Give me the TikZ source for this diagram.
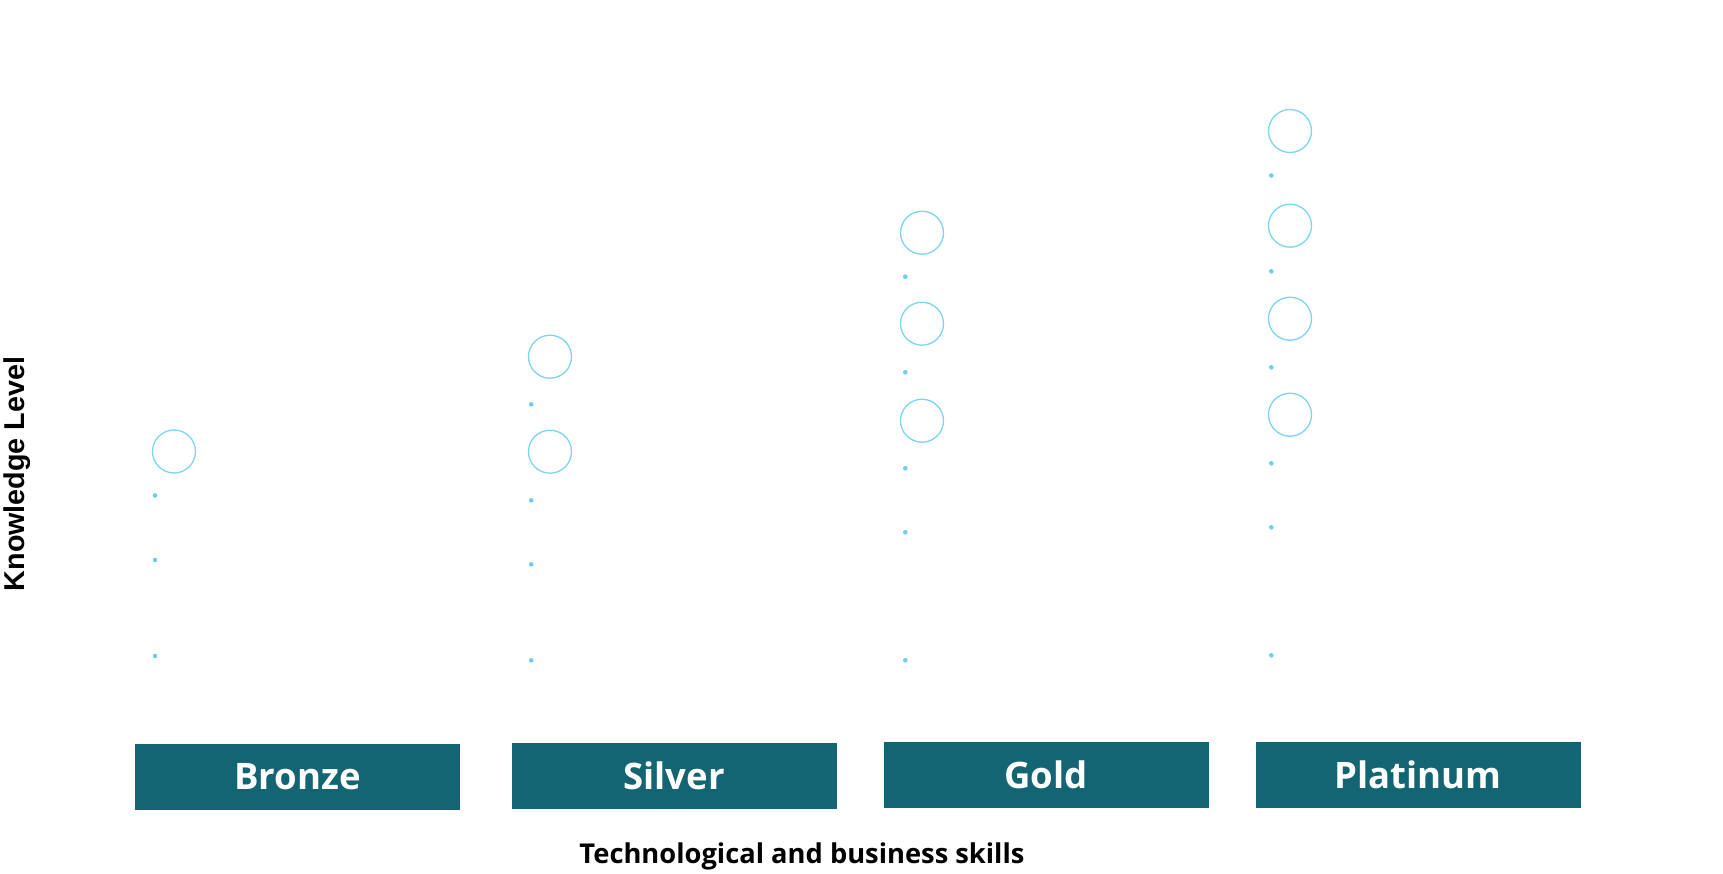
\documentclass[tikz,border=0pt]{standalone}
\usepackage{fontspec}
\setmainfont{Open Sans}
\newfontfamily\kfont{Liberation Sans}
\definecolor{boxteal}{HTML}{136574}
\definecolor{ringblue}{HTML}{7DD5EF}
\definecolor{dotblue}{HTML}{6CCFEE}
\tikzset{
  levelbox/.style={fill=boxteal, text=white, inner sep=0pt, minimum width=325pt, minimum height=66pt,
    font=\fontsize{36.5}{40}\selectfont\bfseries},
  ring/.style={circle, draw=ringblue, line width=1.3pt, minimum size=43pt, inner sep=0pt},
  dotnode/.style={circle, fill=dotblue, minimum size=4.6pt, inner sep=0pt},
  axislabel/.style={font=\fontsize{27.3}{30}\selectfont\bfseries, text=black, inner sep=0pt}
}
\begin{document}
\begin{tikzpicture}[x=1pt,y=-1pt]
\useasboundingbox (0,0) rectangle (1723,874);
\fill[white] (0,0) rectangle (1723,874);

% level boxes
\node[levelbox] (bronze)   at (297.5,777) {Bronze};
\node[levelbox] (silver)   at (674,776)   {Silver};
\node[levelbox] (gold)     at (1046,775)  {Gold};
\node[levelbox] (platinum) at (1418,775)  {Platinum};

% Bronze column
\node[ring] (b1) at (174,451.5) {};
\node[dotnode] (bd1) at (155,495.5) {};
\node[dotnode] (bd2) at (155,560) {};
\node[dotnode] (bd3) at (155,656) {};

% Silver column
\node[ring] (s1) at (550,356.7) {};
\node[ring] (s2) at (550,451.7) {};
\node[dotnode] (sd1) at (531.3,404.3) {};
\node[dotnode] (sd2) at (531.3,500.3) {};
\node[dotnode] (sd3) at (531.3,564.3) {};
\node[dotnode] (sd4) at (531.3,660.3) {};

% Gold column
\node[ring] (g1) at (922,232.7) {};
\node[ring] (g2) at (922,323.7) {};
\node[ring] (g3) at (922,420.7) {};
\node[dotnode] (gd1) at (905.3,276.7) {};
\node[dotnode] (gd2) at (905.3,372.3) {};
\node[dotnode] (gd3) at (905.3,468.3) {};
\node[dotnode] (gd4) at (905.3,532.3) {};
\node[dotnode] (gd5) at (905.3,660.3) {};

% Platinum column
\node[ring] (p1) at (1290,131) {};
\node[ring] (p2) at (1290,225.7) {};
\node[ring] (p3) at (1290,318.7) {};
\node[ring] (p4) at (1290,414.7) {};
\node[dotnode] (pd1) at (1271.3,175.5) {};
\node[dotnode] (pd2) at (1271.3,271.3) {};
\node[dotnode] (pd3) at (1271.3,367.3) {};
\node[dotnode] (pd4) at (1271.3,463.3) {};
\node[dotnode] (pd5) at (1271.3,527.3) {};
\node[dotnode] (pd6) at (1271.3,655.3) {};

% axis labels
\node[axislabel, anchor=base] (xlab) at (802,863.3) {Technological and business skills};
\node[inner sep=0pt, rotate=90, anchor=base, font=\kfont\fontsize{28.7}{31}\selectfont\bfseries] (ylab) at (24,474) {Knowledge Level};
\end{tikzpicture}
\end{document}
